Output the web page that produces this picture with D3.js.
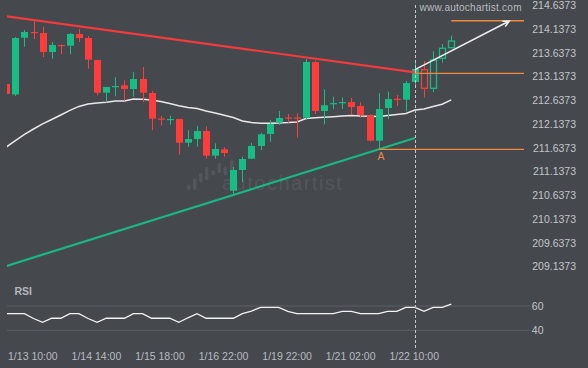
<!DOCTYPE html>
<html>
<head>
<meta charset="utf-8">
<script src="https://cdn.jsdelivr.net/npm/d3@7"></script>
<style>
body { margin: 0; background: #45484d; }
svg { display: block; font-family: "Liberation Sans", Arial, sans-serif; }
</style>
</head>
<body>
<script>
// 4h candles
var opens = [212.930, 212.709, 213.906, 214.026, 214.005, 213.605, 213.752, 213.738, 213.984, 213.900,
  213.436, 212.747, 212.878, 212.903, 212.825, 213.036, 212.741, 212.203, 212.182, 212.193,
  211.693, 211.771, 211.940, 211.420, 211.554, 210.682, 211.118, 211.356, 211.624, 211.877,
  212.115, 212.225, 212.225, 212.220, 213.394, 212.361, 212.517, 212.538, 212.551, 212.467,
  212.271, 211.736, 212.425, 212.619, 212.600, 212.973, 213.232, 212.840, 213.472, 213.695];
var highs = [212.935, 213.921, 214.068, 214.279, 214.138, 213.816, 213.763, 214.005, 214.089, 213.942,
  213.443, 212.873, 213.072, 213.008, 213.183, 213.289, 212.783, 212.262, 212.262, 212.197,
  211.955, 212.045, 212.039, 211.681, 211.597, 211.181, 211.398, 211.693, 211.904, 212.172,
  212.361, 212.298, 212.313, 213.457, 213.421, 212.819, 212.663, 212.650, 212.635, 212.551,
  212.292, 212.734, 212.768, 212.699, 212.994, 213.394, 213.415, 213.620, 213.773, 213.948];
var lows = [212.715, 212.678, 213.716, 213.879, 213.499, 213.464, 213.556, 213.556, 213.816, 213.253,
  212.692, 212.545, 212.671, 212.579, 212.663, 212.551, 211.955, 212.052, 212.073, 211.441,
  211.609, 211.609, 211.356, 211.356, 211.398, 210.591, 210.865, 211.350, 211.540, 211.715,
  212.066, 212.115, 211.799, 212.172, 212.298, 212.081, 212.397, 212.404, 212.277, 212.220,
  211.715, 211.554, 212.187, 212.467, 212.355, 212.852, 212.642, 212.756, 213.379, 213.695];
var closes = [212.720, 213.900, 214.026, 214.014, 213.605, 213.752, 213.740, 213.984, 213.900, 213.443,
  212.747, 212.867, 212.888, 212.825, 213.036, 212.747, 212.199, 212.193, 212.193, 211.693,
  211.771, 211.940, 211.420, 211.561, 211.476, 211.118, 211.350, 211.624, 211.870, 212.088,
  212.214, 212.214, 212.214, 213.394, 212.361, 212.482, 212.528, 212.549, 212.446, 212.277,
  211.736, 212.404, 212.614, 212.608, 212.951, 213.247, 212.840, 213.436, 213.683, 213.837];

// moving average (white line)
var ma = [211.603, 211.736, 211.870, 211.982, 212.090, 212.182, 212.277, 212.376, 212.458, 212.509,
  212.530, 212.547, 212.572, 212.572, 212.614, 212.610, 212.593, 212.562, 212.519, 212.471,
  212.435, 212.414, 212.361, 212.319, 212.271, 212.224, 212.151, 212.119, 212.102, 212.104,
  212.109, 212.117, 212.130, 212.203, 212.218, 212.229, 212.241, 212.256, 212.267, 212.256,
  212.250, 212.246, 212.267, 212.288, 212.309, 212.383, 212.404, 212.456, 212.503, 212.597];

// RSI
var rsi = [53.7, 53.7, 53.7, 49.7, 46.6, 49.9, 49.9, 53.7, 53.7, 49.7,
  46.6, 49.9, 49.9, 49.9, 53.7, 53.7, 49.9, 49.9, 49.9, 46.6,
  50.3, 53.7, 49.9, 49.9, 49.9, 49.9, 53.7, 55.8, 58.9, 58.9,
  58.9, 55.6, 53.7, 53.7, 53.7, 53.7, 53.7, 55.6, 55.6, 53.7,
  53.7, 53.7, 55.6, 55.6, 58.9, 58.9, 55.6, 58.9, 58.9, 61.6];

var tickIdx = [3, 10, 17, 24, 31, 38, 45];
var tickLabels = ["1/13 10:00", "1/14 14:00", "1/15 18:00", "1/16 22:00", "1/19 22:00", "1/21 02:00", "1/22 10:00"];
var priceTicks = [209.1373, 209.6373, 210.1373, 210.6373, 211.1373, 211.6373,
  212.1373, 212.6373, 213.1373, 213.6373, 214.1373, 214.6373];
var rsiTicks = [40, 60];

// pattern lines: [index, price]
var resistance = [[0, 214.357], [45, 213.177]];
var support = [[0, 209.095], [45, 211.792]];
var forecast = [[45, 213.232], [55.4, 214.258]];
var patternEnd = 45;
var pointA = [41, 211.554];
var breakLevel = 213.156;
var targetLevel = 214.264;

var W = 588, H = 368;
var bg = "#45484d", green = "#16bd84", red = "#ff3c3c", orange = "#f0883e";

var x = d3.scaleLinear().domain([0, 57]).range([6.3, 523.9]);
var y = d3.scaleLinear().domain([209.1373, 214.6373]).range([264, 3]);
var yr = d3.scaleLinear().domain([40, 60]).range([330.3, 306]);

var svg = d3.select("body").append("svg")
    .attr("width", W)
    .attr("height", H);

svg.append("rect").attr("width", W).attr("height", H).attr("fill", bg);

var defs = svg.append("defs");
defs.append("clipPath").attr("id", "plot")
  .append("rect").attr("x", 7).attr("y", 0).attr("width", 517).attr("height", 280);
defs.append("clipPath").attr("id", "rsiclip")
  .append("rect").attr("x", 7).attr("y", 280).attr("width", 517).attr("height", 70);

// watermark
var wm = svg.append("g").attr("fill", "#53565b");
[[187, 185, 190], [193, 178, 190], [199, 173, 182], [205, 167, 180], [211.5, 170, 175],
 [217.5, 163, 173], [223.5, 167, 175], [230, 160, 170]].forEach(function(b) {
  wm.append("rect").attr("x", b[0]).attr("y", b[1]).attr("width", 3.5)
    .attr("height", b[2] - b[1]).attr("rx", 1.5);
});
wm.append("text").attr("x", 222).attr("y", 190)
  .style("font-size", "20px").style("letter-spacing", "1.5px")
  .text("autochartist");

var plot = svg.append("g").attr("clip-path", "url(#plot)");

// moving average
var line = d3.line().x(function(d, i) { return x(i); }).y(function(d) { return y(d); });
plot.append("path").datum(ma)
    .attr("d", line)
    .attr("fill", "none")
    .attr("stroke", "#e8e8e8")
    .attr("stroke-width", 1.5);

// candles
var candles = d3.range(opens.length).map(function(i) {
  return {i: i, o: opens[i], h: highs[i], l: lows[i], c: closes[i]};
});
var cw = 7;
var g = plot.selectAll(".candle")
    .data(candles)
  .enter().append("g")
    .attr("class", "candle");

g.append("line")
    .attr("x1", function(d) { return Math.round(x(d.i)) + 0.5; })
    .attr("x2", function(d) { return Math.round(x(d.i)) + 0.5; })
    .attr("y1", function(d) { return y(d.h); })
    .attr("y2", function(d) { return y(d.l); })
    .attr("stroke", function(d) { return d.c >= d.o ? green : red; })
    .attr("stroke-width", 1);

g.append("rect")
    .attr("x", function(d) { return Math.round(x(d.i)) - 3 + (d.i > patternEnd ? 0.5 : 0); })
    .attr("y", function(d) { return y(Math.max(d.o, d.c)); })
    .attr("width", function(d) { return d.i > patternEnd ? cw - 1 : cw; })
    .attr("height", function(d) { return Math.max(1.2, y(Math.min(d.o, d.c)) - y(Math.max(d.o, d.c))); })
    .attr("fill", function(d) { return d.i > patternEnd ? bg : (d.c >= d.o ? green : red); })
    .attr("stroke", function(d) { return d.i > patternEnd ? (d.c >= d.o ? green : red) : "none"; })
    .attr("stroke-width", 1.3);

// pattern trend lines
var pline = d3.line().x(function(d) { return x(d[0]); }).y(function(d) { return y(d[1]); });
plot.append("path").datum(resistance).attr("d", pline)
    .attr("stroke", "#f23b3d").attr("stroke-width", 2.2).attr("fill", "none");
plot.append("path").datum(support).attr("d", pline)
    .attr("stroke", "#19b784").attr("stroke-width", 2.2).attr("fill", "none");

// levels
plot.append("line")
    .attr("x1", x(patternEnd)).attr("x2", 524)
    .attr("y1", y(breakLevel)).attr("y2", y(breakLevel))
    .attr("stroke", orange).attr("stroke-width", 1.2);
plot.append("line")
    .attr("x1", x(pointA[0])).attr("x2", 524)
    .attr("y1", y(pointA[1])).attr("y2", y(pointA[1]))
    .attr("stroke", orange).attr("stroke-width", 1.2);
plot.append("line")
    .attr("x1", x(49)).attr("x2", 524)
    .attr("y1", y(targetLevel)).attr("y2", y(targetLevel))
    .attr("stroke", orange).attr("stroke-width", 1.5);

svg.append("text")
    .attr("x", x(pointA[0]) + 2.5).attr("y", y(pointA[1]) + 10.5)
    .attr("text-anchor", "middle")
    .attr("fill", orange)
    .style("font-size", "10.5px")
    .text("A");

// forecast arrow
var fx0 = x(forecast[0][0]), fy0 = y(forecast[0][1]);
var fx1 = x(forecast[1][0]), fy1 = y(forecast[1][1]);
var ang = Math.atan2(fy0 - fy1, fx0 - fx1);
var al = 7, spread = 0.45;
svg.append("path")
    .attr("d", "M" + fx0 + "," + fy0 + "L" + fx1 + "," + fy1 +
      "M" + (fx1 + al * Math.cos(ang - spread)) + "," + (fy1 + al * Math.sin(ang - spread)) +
      "L" + fx1 + "," + fy1 +
      "L" + (fx1 + al * Math.cos(ang + spread)) + "," + (fy1 + al * Math.sin(ang + spread)))
    .attr("fill", "none")
    .attr("stroke", "#eeeeee")
    .attr("stroke-width", 1.5);

// right price axis
var yAxis = svg.append("g")
    .attr("transform", "translate(576,0)")
    .call(d3.axisLeft(y).tickValues(priceTicks).tickFormat(d3.format(".4f")).tickSize(0).tickPadding(0));
yAxis.select(".domain").remove();
yAxis.selectAll("text").attr("y", 2.4).attr("fill", "#c3c5c9").style("font-size", "10.5px")
    .style("font-family", "'Liberation Sans', Arial, sans-serif");

// RSI panel
svg.selectAll(".rsigrid")
    .data(rsiTicks)
  .enter().append("line")
    .attr("x1", 7).attr("x2", 530)
    .attr("y1", function(d) { return yr(d); })
    .attr("y2", function(d) { return yr(d); })
    .attr("stroke", "#5c6065")
    .attr("stroke-width", 1);

svg.append("g").attr("clip-path", "url(#rsiclip)")
  .append("path").datum(rsi)
    .attr("d", d3.line().x(function(d, i) { return x(i); }).y(function(d) { return yr(d); }))
    .attr("fill", "none")
    .attr("stroke", "#f2f2f2")
    .attr("stroke-width", 1.3);

var rAxis = svg.append("g")
    .attr("transform", "translate(543.5,0)")
    .call(d3.axisLeft(yr).tickValues(rsiTicks).tickSize(0).tickPadding(0));
rAxis.select(".domain").remove();
rAxis.selectAll("text").attr("fill", "#c3c5c9").style("font-size", "10.5px")
    .style("font-family", "'Liberation Sans', Arial, sans-serif");

svg.append("text")
    .attr("x", 14.5).attr("y", 295)
    .attr("fill", "#b4b7bb")
    .style("font-size", "10.5px")
    .style("font-weight", "bold")
    .text("RSI");

// time axis
var xAxis = svg.append("g")
    .attr("transform", "translate(-1.2,352.5)")
    .call(d3.axisBottom(x).tickValues(tickIdx)
      .tickFormat(function(d) { return tickLabels[tickIdx.indexOf(d)]; })
      .tickSize(0).tickPadding(0));
xAxis.select(".domain").remove();
xAxis.selectAll("text").attr("fill", "#b9bcc0").style("font-size", "10.5px")
    .style("font-family", "'Liberation Sans', Arial, sans-serif");

// current bar marker
svg.append("line")
    .attr("x1", Math.round(x(patternEnd)) + 0.5).attr("x2", Math.round(x(patternEnd)) + 0.5)
    .attr("y1", 5).attr("y2", 350)
    .attr("stroke", "#c8c8c8")
    .attr("stroke-width", 1)
    .attr("stroke-dasharray", "3,2");

svg.append("text")
    .attr("x", 419.5).attr("y", 10.5)
    .attr("fill", "#b9bbbf")
    .style("font-size", "10px")
    .style("letter-spacing", "0.25px")
    .text("www.autochartist.com");
</script>
</body>
</html>
